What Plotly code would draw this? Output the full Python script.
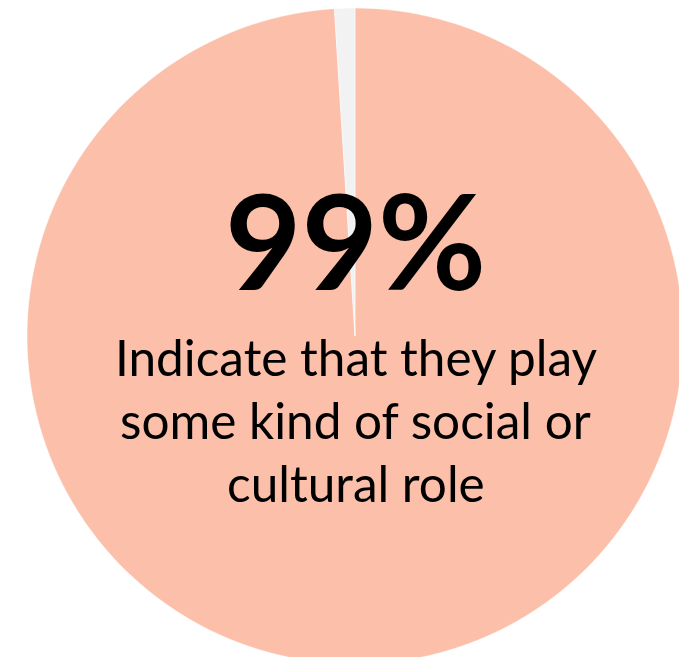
import plotly.graph_objects as go

labels = ["Play a social or cultural role", "Other"]
values = [99, 1]
colors = ["#FBBFAA", "#F2F2F2"]
headline = "99%"
sub_lines = ["Indicate that they play", "some kind of social or", "cultural role"]

W, H = 687, 657
cx, cy, r = 347, 328, 328

fig = go.Figure(go.Pie(
    labels=labels, values=values, sort=False, direction="clockwise", rotation=0,
    marker=dict(colors=colors, line=dict(color="#FFFFFF", width=0.5)),
    textinfo="none", hoverinfo="label+percent", showlegend=False,
    domain=dict(x=[(cx - r) / W, (cx + r) / W], y=[max(0, 1 - (cy + r) / H), min(1, 1 - (cy - r) / H)]),
))

def py(px):
    return 1 - px / H

fig.add_annotation(text="<b>" + headline + "</b>", x=347.5 / W, y=py(231), xref="paper", yref="paper",
                   xanchor="center", yanchor="middle", showarrow=False,
                   font=dict(family="Lato", size=132, color="#000000"))
for i, line in enumerate(sub_lines):
    fig.add_annotation(text=line, x=347.5 / W, y=py(349 + 63 * i), xref="paper", yref="paper",
                       xanchor="center", yanchor="middle", showarrow=False,
                       font=dict(family="Lato", size=49.5, color="#000000"))

fig.update_layout(width=W, height=H, margin=dict(l=0, r=0, t=0, b=0),
                  paper_bgcolor="#FFFFFF", plot_bgcolor="#FFFFFF")
fig.write_html("out.html")
